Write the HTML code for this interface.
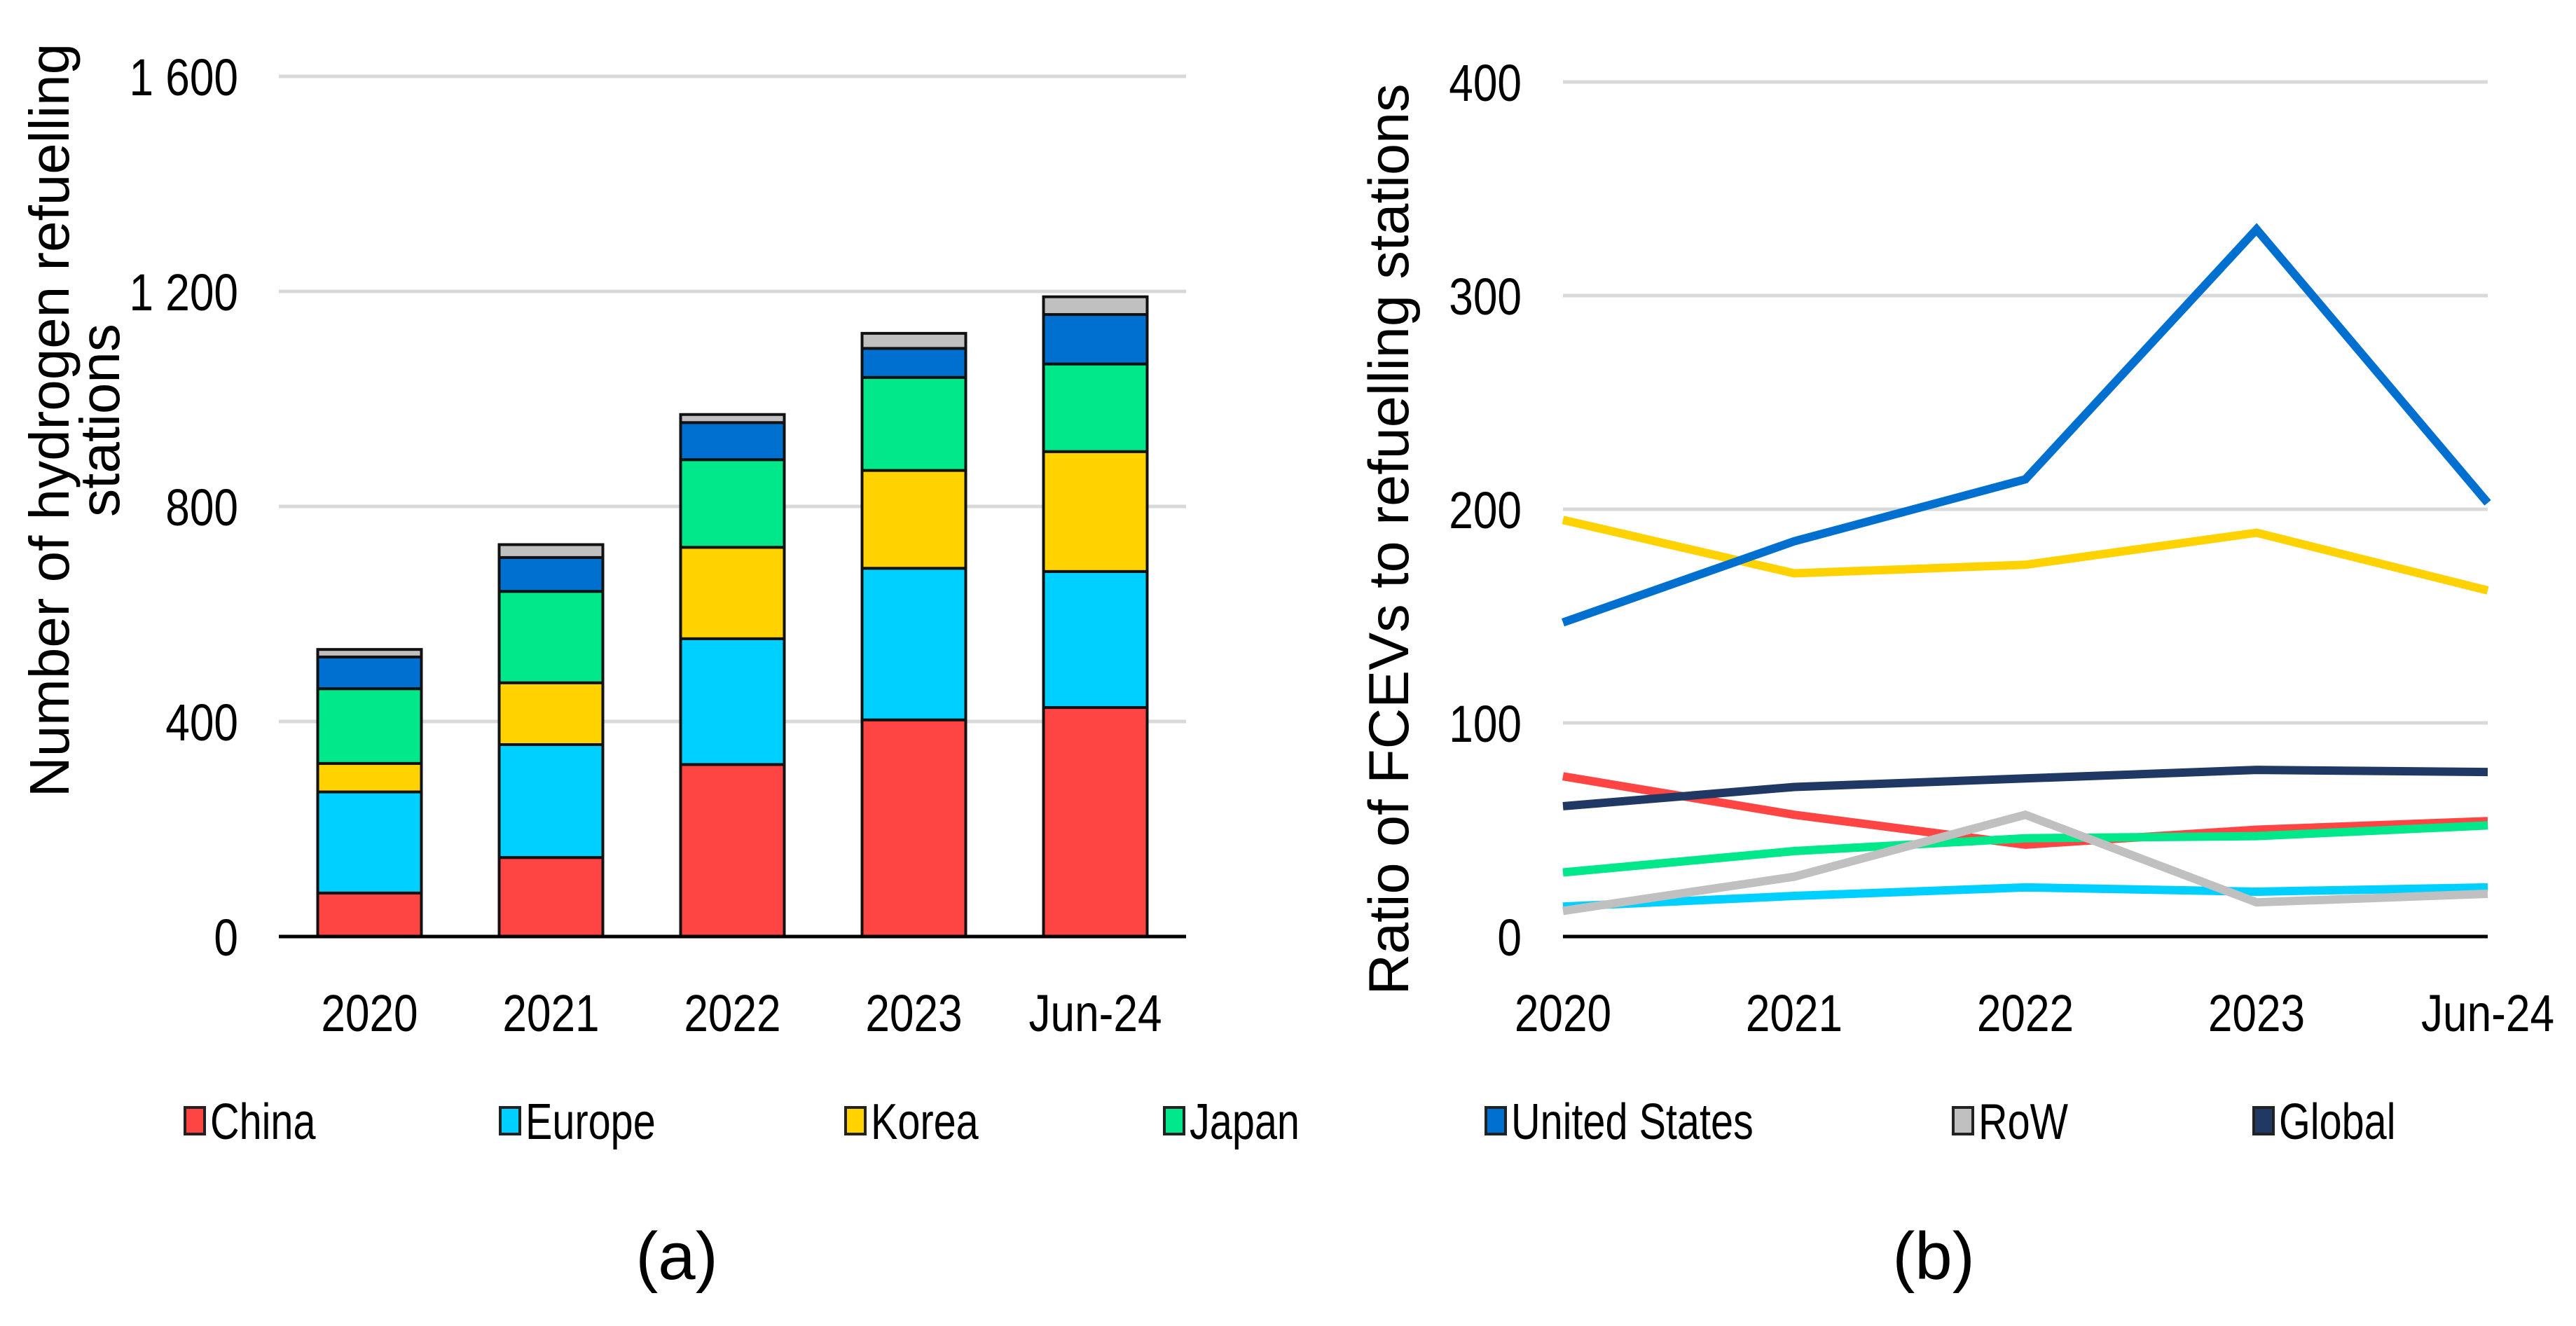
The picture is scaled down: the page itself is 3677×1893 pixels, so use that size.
<!DOCTYPE html>
<html><head><meta charset="utf-8"><style>
html,body{margin:0;padding:0;background:#fff;}
svg{display:block;font-family:"Liberation Sans",Arial,sans-serif;}
</style></head><body>
<svg id="fig" width="3677" height="1893" viewBox="0 0 3677 1893">
<g id="chartA"></g>
<g id="chartB"></g>
<g id="legend"></g>
<text x="966" y="1826" font-size="96" text-anchor="middle" fill="#000">(a)</text>
<text x="2760" y="1826" font-size="96" text-anchor="middle" fill="#000">(b)</text>
</svg>
<script>
// ---- Data: chart (a) ----
const categories = ["2020","2021","2022","2023","Jun-24"];
const barSeriesNames = ["China","Europe","Korea","Japan","United States","RoW"];
const china  = [81,147,320,403,426];
const europe = [188,210,234,282,253];
const korea  = [53,115,170,182,223];
const japan  = [139,170,163,173,163];
const us     = [59,63,69,54,92];
const row    = [14,24,15,28,33];
const yTicksA = [0,400,800,1200,1600];
const yTickLabelsA = ["0","400","800","1 200","1 600"];
// ---- Data: chart (b) ----
const lineNames = ["United States","Korea","Global","China","Japan","RoW","Europe"];
const usRatio     = [147,185,214,331,203];
const koreaRatio  = [195,170,174,189,162];
const globalRatio = [61,70,74,78,77];
const chinaRatio  = [75,57,43,50,54];
const japanRatio  = [30,40,46,47,52];
const rowRatio    = [12,28,57,16,20];
const europeRatio = [14,19,23,21,23];
const yTicksB = [0,100,200,300,400];

const NS="http://www.w3.org/2000/svg";
function mk(tag,attrs,parent){const e=document.createElementNS(NS,tag);for(const k in attrs)e.setAttribute(k,attrs[k]);parent.appendChild(e);return e;}
function squeeze(t,f){const w=t.getComputedTextLength();t.setAttribute('textLength',w*f);t.setAttribute('lengthAdjust','spacingAndGlyphs');}

const colors={"China":"#ff4444","Europe":"#00d0ff","Korea":"#ffd200","Japan":"#00e88a","United States":"#0070d0","RoW":"#c0c0c0","Global":"#1f3864"};

// ---- Chart A ----
const A=document.getElementById('chartA');
const aL=398,aR=1693,aTop=109,aBot=1337,aMax=1600;
const yA=v=>aBot-(v/aMax)*(aBot-aTop);
const band=(aR-aL)/categories.length;
const xA=i=>aL+band*(i+0.5);
yTicksA.forEach((v,i)=>{
  if(v>0){const g=mk('line',{x1:aL,x2:aR,y1:yA(v),y2:yA(v),stroke:'#d9d9d9','stroke-width':5},A);
  
  }
  const t=mk('text',{x:340,y:yA(v)+27,'font-size':74,'text-anchor':'end',fill:'#000'},A);
  t.textContent=yTickLabelsA[i];
  
  
  squeeze(t,0.84);
});
const stacks=[china,europe,korea,japan,us,row];
categories.forEach((c,i)=>{
  let base=0;
  stacks.forEach((s,k)=>{
    const v=s[i];
    const r=mk('rect',{x:xA(i)-74,y:yA(base+v),width:148,height:yA(base)-yA(base+v),fill:colors[barSeriesNames[k]],stroke:'#111','stroke-width':4},A);
    
    
    base+=v;
  });
  const t=mk('text',{x:xA(i),y:1472,'font-size':74,'text-anchor':'middle',fill:'#000'},A);
  t.textContent=c;
  
  
  squeeze(t,0.84);
});
const axA=mk('line',{x1:aL,x2:aR,y1:aBot,y2:aBot,stroke:'#000','stroke-width':5},A);


[["Number of hydrogen refuelling",98],["stations",170]].forEach((p,k)=>{
  const t=mk('text',{x:0,y:0,'font-size':80,'text-anchor':'middle',fill:'#000',transform:`translate(${p[1]},600) rotate(-90)`},A);
  t.textContent=p[0];
  
  
});

// ---- Chart B ----
const B=document.getElementById('chartB');
const bL=2231,bR=3551,bTop=117,bBot=1337,bMax=400;
const yB=v=>bBot-(v/bMax)*(bBot-bTop);
const xB=i=>bL+(bR-bL)*i/(categories.length-1);
yTicksB.forEach(v=>{
  if(v>0){const g=mk('line',{x1:bL,x2:bR,y1:yB(v),y2:yB(v),stroke:'#d9d9d9','stroke-width':5},B);
  
  }
  const t=mk('text',{x:2172,y:yB(v)+27,'font-size':74,'text-anchor':'end',fill:'#000'},B);
  t.textContent=String(v);
  
  
  squeeze(t,0.84);
});
const axB=mk('line',{x1:bL,x2:bR,y1:bBot,y2:bBot,stroke:'#000','stroke-width':5},B);


categories.forEach((c,i)=>{
  const t=mk('text',{x:xB(i),y:1472,'font-size':74,'text-anchor':'middle',fill:'#000'},B);
  t.textContent=c;
  
  
  squeeze(t,0.84);
});
const series=[usRatio,koreaRatio,globalRatio,chinaRatio,japanRatio,rowRatio,europeRatio];
const drawOrder=[6,3,4,5,2,1,0];
drawOrder.forEach(k=>{
  const d=series[k].map((v,i)=>(i?'L':'M')+xB(i)+','+yB(v)).join(' ');
  const p=mk('path',{d:d,fill:'none',stroke:colors[lineNames[k]],'stroke-width':12,'stroke-linejoin':'miter'},B);
  
  
});
const tb=mk('text',{x:0,y:0,'font-size':81,'text-anchor':'middle',fill:'#000',transform:'translate(2010,770) rotate(-90)'},B);
tb.textContent="Ratio of FCEVs to refuelling stations";



// ---- Legend ----
const L=document.getElementById('legend');
const legNames=["China","Europe","Korea","Japan","United States","RoW","Global"];
const legX=[264,714,1207,1662,2121,2788,3217];
legNames.forEach((n,i)=>{
  const g=mk('g',{},L);
  
  
  const r=mk('rect',{x:legX[i],y:1581,width:28,height:38,fill:colors[n],stroke:'#222','stroke-width':4},g);
  
  
  const t=mk('text',{x:legX[i]+36,y:1626,'font-size':72,fill:'#000'},g);
  t.textContent=n;
  
  
  squeeze(t,0.8);
});
</script>
</body></html>
